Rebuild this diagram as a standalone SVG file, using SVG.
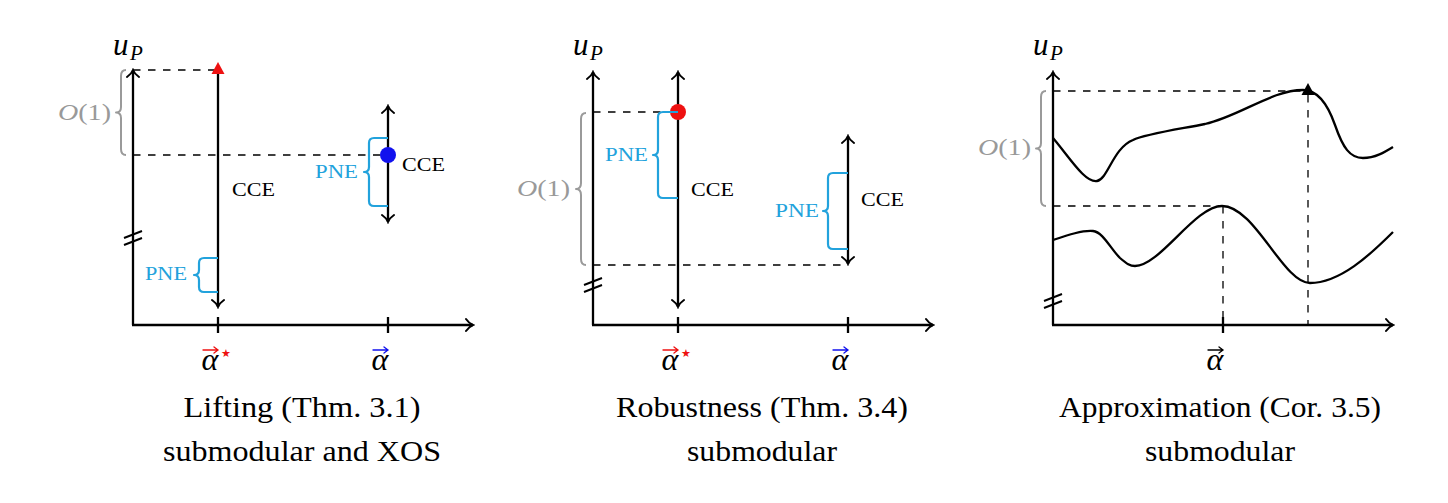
<svg xmlns="http://www.w3.org/2000/svg" width="1448" height="503" viewBox="0 0 1448 503">
<style>
.ax{stroke:#000;stroke-width:2.3;fill:none}
.ln{stroke:#000;stroke-width:2.3;fill:none}
.dash{stroke:#000;stroke-width:1.3;stroke-dasharray:7.5 7.5;fill:none}
.pb{stroke:#22a2dc;stroke-width:2.2;fill:none;stroke-linejoin:round}
.gb{stroke:#9a9a9a;stroke-width:2;fill:none;stroke-linejoin:round}
.brk{stroke:#000;stroke-width:2;fill:none}
.t{font-family:"Liberation Serif","DejaVu Serif",serif;fill:#000}
.cap{font-size:30px}
.lab{font-size:18px}
.pne{fill:#22a2dc}
.gr{fill:#999;font-size:24px}
.up{font-size:31px;font-style:italic}
.sub{font-size:21px;font-style:italic}
.al{font-size:32px;font-style:italic}
.va{stroke-width:1.3;fill:none;stroke-linecap:round}
.star{font-family:"DejaVu Sans",sans-serif;font-size:11px}
</style>
<defs>
<marker id="ah" viewBox="-9 -8 11 16" refX="0" refY="0" markerWidth="11" markerHeight="16" markerUnits="userSpaceOnUse" orient="auto-start-reverse">
<path d="M -7 -6 C -5 -3 -2 -0.8 0 0 C -2 0.8 -5 3 -7 6" fill="none" stroke="#000" stroke-width="2" stroke-linecap="round"/>
</marker>
</defs>

<!-- Panel 1 -->
<g id="panel1">
<g id="p1-axes">
<line class="ax" x1="133" y1="325" x2="133" y2="70" marker-end="url(#ah)"/>
<line class="ax" x1="132" y1="325" x2="473" y2="325" marker-end="url(#ah)"/>
<line class="ax" x1="218" y1="317" x2="218" y2="333"/>
<line class="ax" x1="388" y1="317" x2="388" y2="333"/>
<path class="brk" d="M124 238 L142 231 M124 245 L142 238"/>
<text class="t up" x="113" y="55">u</text><text class="t sub" x="130" y="60">P</text>
</g>
<g id="p1-connectors">
<line class="dash" x1="133" y1="70" x2="215" y2="70"/>
<line class="dash" x1="133" y1="155" x2="385" y2="155"/>
<line class="ln" x1="218" y1="72" x2="218" y2="307" marker-end="url(#ah)"/>
<line class="ln" x1="388" y1="106" x2="388" y2="222" marker-start="url(#ah)" marker-end="url(#ah)"/>
</g>
<polygon id="p1-triangle" points="211.5,74 224.5,74 218,62" fill="#ee1111"/>
<circle id="p1-dot" cx="388" cy="155" r="8" fill="#1111ee"/>
<text class="t lab" x="232" y="196" textLength="43" lengthAdjust="spacingAndGlyphs">CCE</text>
<text class="t lab" x="402" y="171" textLength="43" lengthAdjust="spacingAndGlyphs">CCE</text>
<path class="pb" d="M218 258 H204 Q199 258 199 263 V270 Q199 275 194 275 Q199 275 199 280 V287 Q199 292 204 292 H218"/>
<text class="t lab pne" x="187" y="280" text-anchor="end" textLength="42" lengthAdjust="spacingAndGlyphs">PNE</text>
<path class="pb" d="M388 138 H374 Q369 138 369 143 V167 Q369 172 364 172 Q369 172 369 177 V201 Q369 206 374 206 H388"/>
<text class="t lab pne" x="358" y="178" text-anchor="end" textLength="43" lengthAdjust="spacingAndGlyphs">PNE</text>
<path class="gb" d="M126 70 Q121 70 121 76 V107 Q121 112.5 116 112.5 Q121 112.5 121 118 V149 Q121 155 126 155"/>
<text class="t gr" x="111" y="120" text-anchor="end" textLength="53" lengthAdjust="spacingAndGlyphs"><tspan font-style="italic">O</tspan>(1)</text>
<g id="p1-alpha-star">
<text class="t al" x="210" y="370" text-anchor="middle" fill="#ee1111">α</text>
<path class="va" stroke="#ee1111" d="M203 350 H218 M214 347 L218 350 L214 353"/>
<text class="star" x="226" y="357" text-anchor="middle" fill="#ee1111">★</text>
</g>
<g id="p1-alpha">
<text class="t al" x="380" y="370" text-anchor="middle" fill="#1111ee">α</text>
<path class="va" stroke="#1111ee" d="M373 350 H388 M384 347 L388 350 L384 353"/>
</g>
<text class="t cap" x="302" y="417" text-anchor="middle" textLength="237" lengthAdjust="spacingAndGlyphs">Lifting (Thm. 3.1)</text>
<text class="t cap" x="302" y="461" text-anchor="middle" textLength="278" lengthAdjust="spacingAndGlyphs">submodular and XOS</text>
</g>

<!-- Panel 2 -->
<g id="panel2">
<g id="p2-axes">
<line class="ax" x1="593" y1="325" x2="593" y2="72" marker-end="url(#ah)"/>
<line class="ax" x1="592" y1="325" x2="933" y2="325" marker-end="url(#ah)"/>
<line class="ax" x1="678" y1="317" x2="678" y2="333"/>
<line class="ax" x1="848" y1="317" x2="848" y2="333"/>
<path class="brk" d="M584 285 L602 278 M584 292 L602 285"/>
<text class="t up" x="573" y="55">u</text><text class="t sub" x="590" y="60">P</text>
</g>
<g id="p2-connectors">
<line class="dash" x1="593" y1="112" x2="672" y2="112"/>
<line class="dash" x1="593" y1="265" x2="846" y2="265"/>
<line class="ln" x1="678" y1="72" x2="678" y2="307" marker-start="url(#ah)" marker-end="url(#ah)"/>
<line class="ln" x1="848" y1="136" x2="848" y2="264" marker-start="url(#ah)" marker-end="url(#ah)"/>
</g>
<circle id="p2-dot" cx="678" cy="112" r="8" fill="#ee1111"/>
<text class="t lab" x="691" y="196" textLength="43" lengthAdjust="spacingAndGlyphs">CCE</text>
<text class="t lab" x="861" y="206" textLength="43" lengthAdjust="spacingAndGlyphs">CCE</text>
<path class="pb" d="M678 112 H663 Q658 112 658 117 V150 Q658 155 653 155 Q658 155 658 160 V193 Q658 198 663 198 H678"/>
<text class="t lab pne" x="648" y="161" text-anchor="end" textLength="43" lengthAdjust="spacingAndGlyphs">PNE</text>
<path class="pb" d="M848 173 H833 Q828 173 828 178 V206 Q828 211 823 211 Q828 211 828 216 V244 Q828 249 833 249 H848"/>
<text class="t lab pne" x="819" y="217" text-anchor="end" textLength="44" lengthAdjust="spacingAndGlyphs">PNE</text>
<path class="gb" d="M586 113 Q581 113 581 119 V183 Q581 189 576 189 Q581 189 581 195 V259 Q581 265 586 265"/>
<text class="t gr" x="570" y="196" text-anchor="end" textLength="53" lengthAdjust="spacingAndGlyphs"><tspan font-style="italic">O</tspan>(1)</text>
<g id="p2-alpha-star">
<text class="t al" x="670" y="370" text-anchor="middle" fill="#ee1111">α</text>
<path class="va" stroke="#ee1111" d="M663 350 H678 M674 347 L678 350 L674 353"/>
<text class="star" x="686" y="357" text-anchor="middle" fill="#ee1111">★</text>
</g>
<g id="p2-alpha">
<text class="t al" x="840" y="370" text-anchor="middle" fill="#1111ee">α</text>
<path class="va" stroke="#1111ee" d="M833 350 H848 M844 347 L848 350 L844 353"/>
</g>
<text class="t cap" x="762" y="417" text-anchor="middle" textLength="292" lengthAdjust="spacingAndGlyphs">Robustness (Thm. 3.4)</text>
<text class="t cap" x="762" y="461" text-anchor="middle" textLength="150" lengthAdjust="spacingAndGlyphs">submodular</text>
</g>

<!-- Panel 3 -->
<g id="panel3">
<g id="p3-axes">
<line class="ax" x1="1053" y1="325" x2="1053" y2="72" marker-end="url(#ah)"/>
<line class="ax" x1="1052" y1="325" x2="1393" y2="325" marker-end="url(#ah)"/>
<line class="ax" x1="1223" y1="317" x2="1223" y2="333"/>
<path class="brk" d="M1044 301 L1062 294 M1044 308 L1062 301"/>
<text class="t up" x="1033" y="55">u</text><text class="t sub" x="1050" y="60">P</text>
</g>
<g id="p3-connectors">
<line class="dash" x1="1053" y1="91" x2="1303" y2="91"/>
<line class="dash" x1="1308" y1="95" x2="1308" y2="325"/>
<line class="dash" x1="1053" y1="206" x2="1223" y2="206"/>
<line class="dash" x1="1223" y1="206" x2="1223" y2="325"/>
</g>
<path id="p3-curve-upper" class="ln" d="M1053 138 C1070 158 1085 183 1097 181 C1108 179 1113 148 1133 140 C1145 134 1180 129 1205 124 C1240 116 1272 90 1303 90 C1318 90 1328 105 1335 125 C1343 148 1350 158 1363 158 C1375 158 1385 152 1393 147"/>
<path id="p3-curve-lower" class="ln" d="M1053 240 C1068 235 1083 230 1093 231 C1103 232 1110 248 1120 258 C1127 264 1130 266 1135 266 C1160 266 1195 206 1222 206 C1255 206 1283 283 1310 283 C1340 283 1370 255 1393 232"/>
<polygon id="p3-triangle" points="1301.5,95 1314.5,95 1308,83" fill="#000"/>
<path class="gb" d="M1046 91 Q1041 91 1041 97 V143 Q1041 148.5 1036 148.5 Q1041 148.5 1041 154 V200 Q1041 206 1046 206"/>
<text class="t gr" x="1031" y="155" text-anchor="end" textLength="53" lengthAdjust="spacingAndGlyphs"><tspan font-style="italic">O</tspan>(1)</text>
<g id="p3-alpha">
<text class="t al" x="1215" y="370" text-anchor="middle">α</text>
<path class="va" stroke="#000" d="M1208 350 H1223 M1219 347 L1223 350 L1219 353"/>
</g>
<text class="t cap" x="1220" y="417" text-anchor="middle" textLength="322" lengthAdjust="spacingAndGlyphs">Approximation (Cor. 3.5)</text>
<text class="t cap" x="1220" y="461" text-anchor="middle" textLength="150" lengthAdjust="spacingAndGlyphs">submodular</text>
</g>
</svg>
